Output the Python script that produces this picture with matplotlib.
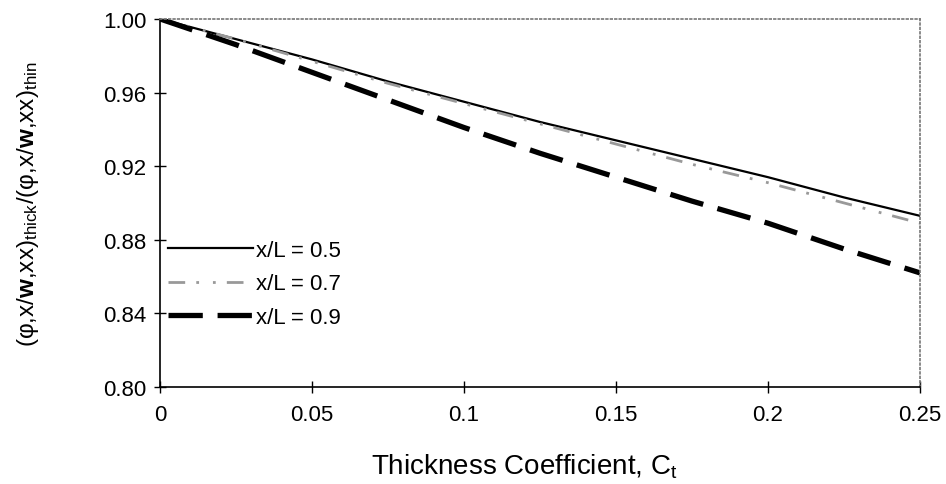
import matplotlib
matplotlib.use("Agg")
import matplotlib.pyplot as plt

plt.rcParams["font.family"] = ["Liberation Sans", "DejaVu Sans"]
plt.rcParams["mathtext.fontset"] = "custom"
plt.rcParams["mathtext.rm"] = "Liberation Sans"
plt.rcParams["mathtext.it"] = "Liberation Sans"
plt.rcParams["mathtext.bf"] = "Liberation Sans:bold"

ct = [0, 0.025, 0.05, 0.075, 0.1, 0.125, 0.15, 0.175, 0.2, 0.225, 0.25]
ratio_05 = [1.0, 0.989, 0.978, 0.966, 0.955, 0.944, 0.934, 0.924, 0.914, 0.903, 0.893]
ratio_07 = [1.0, 0.989, 0.977, 0.965, 0.954, 0.943, 0.932, 0.921, 0.911, 0.900, 0.889]
ratio_09 = [1.0, 0.986, 0.971, 0.956, 0.941, 0.927, 0.914, 0.901, 0.889, 0.875, 0.862]

fig = plt.figure(figsize=(9.46, 4.85), dpi=100)
ax = fig.add_axes([0.169, 0.2, 0.8035, 0.759])

ax.plot(ct, ratio_05, color="black", lw=1.6, label="x/L = 0.5")
ax.plot(ct, ratio_07, color="#999999", lw=2.0, linestyle=(0, (6, 4, 1, 5, 1, 4)), label="x/L = 0.7")
ax.plot(ct, ratio_09, color="black", lw=3.8, linestyle=(0, (6.5, 2.8)), label="x/L = 0.9")

ax.set_xlim(0, 0.25)
ax.set_ylim(0.80, 1.00)
ax.set_xticks([0, 0.05, 0.1, 0.15, 0.2, 0.25])
ax.set_xticklabels(["0", "0.05", "0.1", "0.15", "0.2", "0.25"])
ax.set_yticks([0.80, 0.84, 0.88, 0.92, 0.96, 1.00])
ax.set_yticklabels(["0.80", "0.84", "0.88", "0.92", "0.96", "1.00"])
ax.tick_params(axis="both", labelsize=16, direction="inout", length=9, width=1)
ax.tick_params(axis="x", pad=8)
ax.tick_params(axis="y", pad=5)

for s in ["top", "right"]:
    ax.spines[s].set_color("#777777")
    ax.spines[s].set_linestyle(":")
    ax.spines[s].set_linewidth(1.2)
for s in ["left", "bottom"]:
    ax.spines[s].set_color("black")
    ax.spines[s].set_linewidth(1.2)

ax.set_xlabel(r"Thickness Coefficient, C$_\mathrm{t}$", fontsize=20)
ax.xaxis.set_label_coords(0.48, -0.175)
ax.set_ylabel(r"(φ,x/$\mathbf{w}$,xx)$_\mathrm{thick}$/(φ,x/$\mathbf{w}$,xx)$_\mathrm{thin}$",
              fontsize=17.5)
ax.yaxis.set_label_coords(-0.157, 0.5)

ax.legend(loc="center left", bbox_to_anchor=(0.011, 0.28), frameon=False, fontsize=16,
          handlelength=3.8, handletextpad=0.15, labelspacing=0.55, borderpad=0,
          borderaxespad=0)

fig.savefig("out.png", dpi=100)
